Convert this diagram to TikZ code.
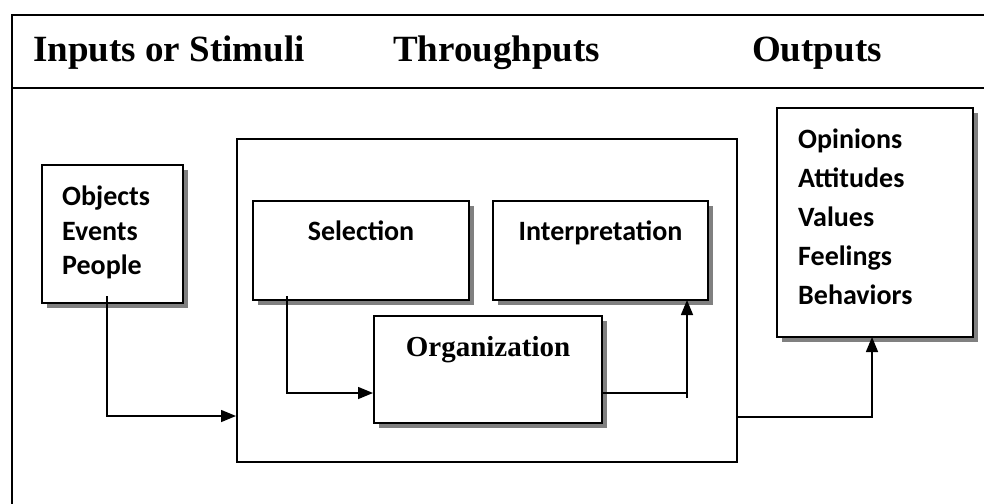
\documentclass[tikz,border=0pt]{standalone}
\usepackage{fontspec}
\setmainfont{Liberation Serif}
\newfontfamily\carlitofont{Carlito}
\usetikzlibrary{arrows.meta,shadows}
\begin{document}
\begin{tikzpicture}[x=1pt,y=-1pt,
  frame/.style={line width=2.5pt},
  shbox/.style={draw,line width=2pt,fill=white,inner sep=0pt,
    drop shadow={shadow xshift=5pt,shadow yshift=-5pt,fill=black!50,opacity=1}},
  plainbox/.style={draw,line width=2pt,fill=white,inner sep=0pt},
  head/.style={font=\fontsize{37}{40}\selectfont\bfseries,anchor=base west,inner sep=0pt},
  ctxt/.style={font=\carlitofont\fontsize{28}{32}\selectfont\bfseries,inner sep=0pt},
  ttxt/.style={font=\fontsize{29}{32}\selectfont\bfseries,inner sep=0pt},
  conn/.style={line width=1.5pt},
  arr/.style={line width=1.5pt,-{Triangle[length=15pt,width=12pt]}}
]
\useasboundingbox (0,0) rectangle (984,503);
\fill[white] (0,0) rectangle (984,503);
% outer frame
\draw[frame] (12,510) -- (12,15) -- (990,15);
\draw[frame] (12,88) -- (990,88);
% header
\node[head] (h1) at (33,62) {Inputs or Stimuli};
\node[head] (h2) at (393,62) {Throughputs};
\node[head] (h3) at (752,62) {Outputs};
% big box
\node[plainbox,minimum width=500pt,minimum height=323pt] (big) at (487,300.5) {};
% boxes
\node[shbox,minimum width=141pt,minimum height=138pt] (obj) at (112.5,234) {};
\node[shbox,minimum width=216pt,minimum height=99pt] (sel) at (361,250.5) {};
\node[shbox,minimum width=215pt,minimum height=99pt] (int) at (600.5,250.5) {};
\node[shbox,minimum width=228pt,minimum height=107pt] (org) at (488,369.5) {};
\node[shbox,minimum width=196pt,minimum height=229pt] (out) at (875,222.5) {};
% texts
\node[ctxt,anchor=base west] (t1) at (62,205) {Objects};
\node[ctxt,anchor=base west] (t2) at (62,240) {Events};
\node[ctxt,anchor=base west] (t3) at (62,274) {People};
\node[ctxt,anchor=base] (tsel) at (361,240) {Selection};
\node[ctxt,anchor=base] (tint) at (600.5,240) {Interpretation};
\node[ttxt,anchor=base] (torg) at (488,356) {Organization};
\node[ctxt,anchor=base west] (o1) at (798,148) {Opinions};
\node[ctxt,anchor=base west] (o2) at (798,187) {Attitudes};
\node[ctxt,anchor=base west] (o3) at (798,226) {Values};
\node[ctxt,anchor=base west] (o4) at (798,265) {Feelings};
\node[ctxt,anchor=base west] (o5) at (798,304) {Behaviors};
% connector points
\coordinate (a0) at (107,296);
\coordinate (a1) at (big.west |- 0,416);
\coordinate (b0) at (287,296);
\coordinate (b1) at (org.west |- 0,393);
\coordinate (c0) at (org.east |- 0,393);
\coordinate (c1) at (687,398);
\coordinate (c2) at (687,300);
\coordinate (d0) at (big.east |- 0,417);
\coordinate (d1) at (872,337);
% connectors
\draw[arr] (a0) |- (a1);
\draw[arr] (b0) |- (b1);
\draw[conn] (c0) -- (c0 -| c1);
\draw[arr] (c1) -- (c2);
\draw[arr] (d0) -| (d1);
\end{tikzpicture}
\end{document}
